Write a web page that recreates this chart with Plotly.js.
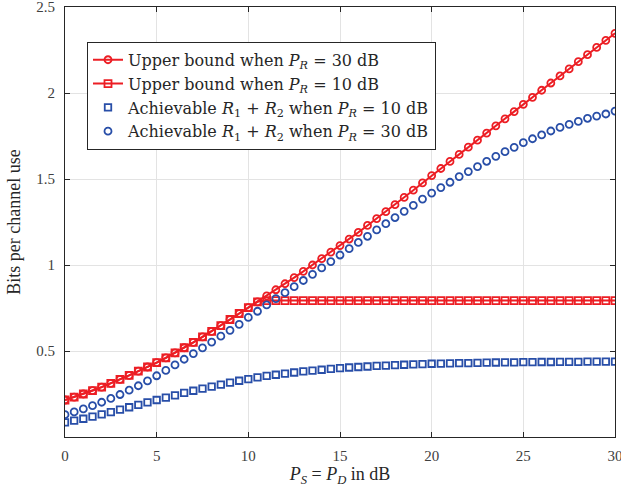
<!DOCTYPE html>
<html>
<head>
<meta charset="utf-8">
<script src="https://cdn.plot.ly/plotly-3.0.1.min.js"></script>
<style>html,body{margin:0;padding:0;background:#fff;}#chart{width:621px;height:487px;}</style>
</head>
<body>
<div id="chart"></div>
<script>
// P_S = P_D in dB
var snrDb = [0,0.5,1,1.5,2,2.5,3,3.5,4,4.5,5,5.5,6,6.5,7,7.5,8,8.5,9,9.5,10,
  10.5,11,11.5,12,12.5,13,13.5,14,14.5,15,15.5,16,16.5,17,17.5,18,18.5,19,19.5,20,
  20.5,21,21.5,22,22.5,23,23.5,24,24.5,25,25.5,26,26.5,27,27.5,28,28.5,29,29.5,30];

var upperPR30 = [0.215,0.232,0.250,0.270,0.290,0.312,0.335,0.358,0.383,0.407,0.432,
  0.460,0.489,0.519,0.550,0.582,0.614,0.648,0.683,0.718,0.752,
  0.786,0.821,0.856,0.891,0.927,0.963,1.000,1.037,1.075,1.113,
  1.151,1.190,1.230,1.270,1.310,1.351,1.393,1.435,1.477,1.520,
  1.561,1.602,1.643,1.685,1.726,1.767,1.809,1.850,1.892,1.934,
  1.975,2.016,2.058,2.099,2.140,2.182,2.223,2.265,2.306,2.347];

var upperPR10 = [0.215,0.232,0.250,0.270,0.290,0.312,0.335,0.358,0.383,0.407,0.432,
  0.460,0.489,0.519,0.550,0.582,0.614,0.648,0.683,0.718,0.752,
  0.786,0.793,0.793,0.793,0.793,0.793,0.793,0.793,0.793,0.793,
  0.793,0.793,0.793,0.793,0.793,0.793,0.793,0.793,0.793,0.793,
  0.793,0.793,0.793,0.793,0.793,0.793,0.793,0.793,0.793,0.793,
  0.793,0.793,0.793,0.793,0.793,0.793,0.793,0.793,0.793,0.793];

var achPR10 = [0.085,0.095,0.106,0.118,0.131,0.145,0.159,0.173,0.187,0.201,0.215,
  0.229,0.242,0.256,0.269,0.281,0.293,0.305,0.316,0.327,0.337,
  0.347,0.355,0.362,0.369,0.375,0.381,0.386,0.391,0.396,0.400,
  0.404,0.407,0.410,0.413,0.415,0.418,0.420,0.422,0.424,0.426,
  0.427,0.428,0.429,0.430,0.431,0.432,0.433,0.434,0.434,0.435,
  0.435,0.436,0.436,0.437,0.437,0.437,0.438,0.438,0.438,0.438];

var achPR30 = [0.130,0.146,0.163,0.182,0.202,0.224,0.247,0.272,0.298,0.326,0.356,
  0.387,0.419,0.452,0.485,0.518,0.552,0.586,0.620,0.655,0.695,
  0.731,0.768,0.804,0.839,0.874,0.910,0.946,0.983,1.020,1.058,
  1.095,1.131,1.167,1.204,1.240,1.276,1.312,1.347,1.383,1.418,
  1.450,1.481,1.514,1.543,1.572,1.603,1.632,1.659,1.684,1.711,
  1.734,1.756,1.779,1.800,1.818,1.835,1.853,1.866,1.878,1.895];

var seriesNames = [
  'Upper bound when <i>P</i><sub><i>R</i></sub> = 30 dB',
  'Upper bound when <i>P</i><sub><i>R</i></sub> = 10 dB',
  'Achievable <i>R</i><sub>1</sub> + <i>R</i><sub>2</sub> when <i>P</i><sub><i>R</i></sub> = 10 dB',
  'Achievable <i>R</i><sub>1</sub> + <i>R</i><sub>2</sub> when <i>P</i><sub><i>R</i></sub> = 30 dB'
];
var xTicks = [0,5,10,15,20,25,30];
var yTicks = [0.5,1,1.5,2,2.5];
var yTickText = ['0.5','1','1.5','2','2.5'];

var RED = 'rgb(236,30,36)';
var BLUE = 'rgb(40,78,168)';
var SERIF = '"Liberation Serif", "Times New Roman", Times, serif';
var WIDE_SERIF = '"DejaVu Serif", serif';

var traces = [
  {x: snrDb, y: upperPR30, name: seriesNames[0], mode: 'lines+markers',
   line: {color: RED, width: 2},
   marker: {symbol: 'circle-open', size: 7, color: RED, line: {width: 1.8, color: RED}}},
  {x: snrDb, y: upperPR10, name: seriesNames[1], mode: 'lines+markers',
   line: {color: RED, width: 2},
   marker: {symbol: 'square-open', size: 7, color: RED, line: {width: 1.8, color: RED}}},
  {x: snrDb, y: achPR10, name: seriesNames[2], mode: 'markers',
   marker: {symbol: 'square-open', size: 6.5, color: BLUE, line: {width: 1.8, color: BLUE}}},
  {x: snrDb, y: achPR30, name: seriesNames[3], mode: 'markers',
   marker: {symbol: 'circle-open', size: 7, color: BLUE, line: {width: 1.8, color: BLUE}}}
];

var axisFont = {family: SERIF, size: 15, color: '#404040'};

var layout = {
  width: 621, height: 487,
  margin: {l: 65, r: 6, t: 7, b: 50, pad: 0},
  paper_bgcolor: '#fff', plot_bgcolor: '#fff',
  showlegend: true,
  font: {family: SERIF, color: '#262626'},
  xaxis: {
    range: [0, 30], tickvals: xTicks, ticktext: xTicks.map(String),
    ticks: 'inside', ticklen: 5, tickcolor: '#262626', tickwidth: 1,
    showline: true, linecolor: '#262626', linewidth: 1, mirror: 'ticks',
    showgrid: true, gridcolor: '#e3e3e3', gridwidth: 1, zeroline: false,
    tickfont: axisFont, ticklabelstandoff: 5, ticklabeloverflow: 'allow',
    title: {text: '<i>P</i><sub><i>S</i></sub> = <i>P</i><sub><i>D</i></sub> in dB',
            font: {family: SERIF, size: 18, color: '#262626'},
            standoff: 0},
    automargin: false, fixedrange: true
  },
  yaxis: {
    range: [0, 2.5], tickvals: yTicks, ticktext: yTickText,
    ticks: 'inside', ticklen: 5, tickcolor: '#262626', tickwidth: 1,
    showline: true, linecolor: '#262626', linewidth: 1, mirror: 'ticks',
    showgrid: true, gridcolor: '#e3e3e3', gridwidth: 1, zeroline: false,
    tickfont: axisFont, ticklabelstandoff: 6, ticklabeloverflow: 'allow',
    title: {text: 'Bits per channel use',
            font: {family: SERIF, size: 18, color: '#262626'},
            standoff: 10},
    automargin: false, fixedrange: true
  },
  legend: {
    x: 0.04, y: 0.919, xanchor: 'left', yanchor: 'top',
    bgcolor: '#fff', bordercolor: '#262626', borderwidth: 1,
    font: {family: WIDE_SERIF, size: 16, color: '#262626'},
    tracegroupgap: 0, itemwidth: 30
  }
};

Plotly.newPlot('chart', traces, layout, {displayModeBar: false, staticPlot: true});
</script>
</body>
</html>
